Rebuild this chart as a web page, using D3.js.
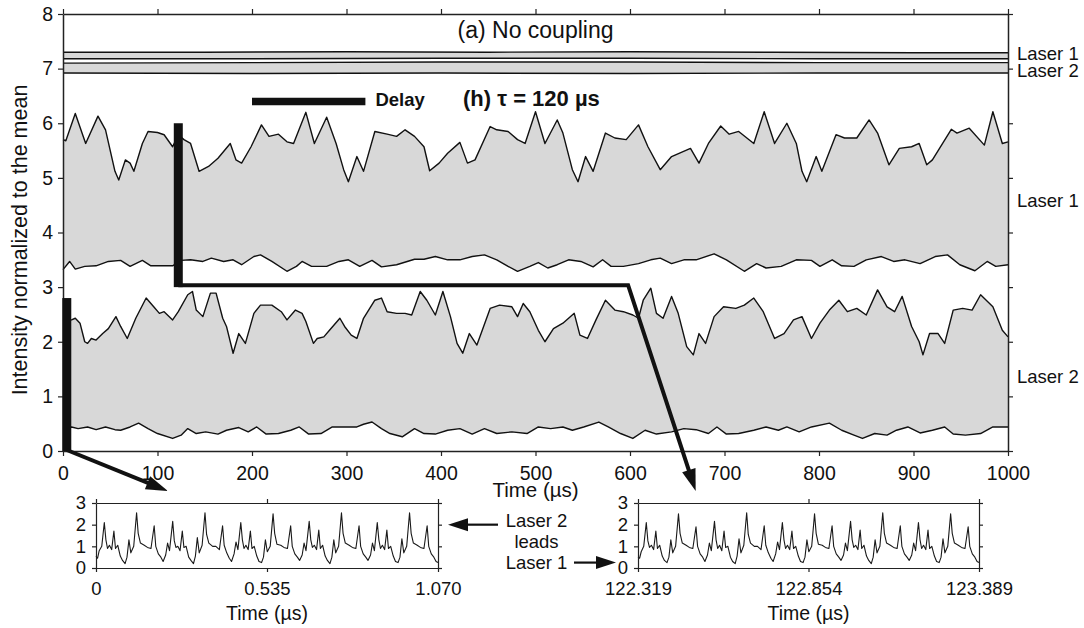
<!DOCTYPE html>
<html>
<head>
<meta charset="utf-8">
<script src="https://cdn.jsdelivr.net/npm/d3@7"></script>
<style>
  html, body { margin: 0; padding: 0; background: #fff; }
  svg { display: block; }
</style>
</head>
<body>
<div id="chart"></div>
<script>
// ---- data (time in us, intensity normalized to the mean) ----
const xTicks = [0, 100, 200, 300, 400, 500, 600, 700, 800, 900, 1000]
const yTicks = [0, 1, 2, 3, 4, 5, 6, 7, 8]

// (a) no coupling, thin bands near the top
const band1Upper = [[0, 7.30], [150, 7.30], [300, 7.31], [450, 7.30], [600, 7.31], [750, 7.30], [900, 7.29], [1000, 7.29]]
const band1Lower = [[0, 7.18], [200, 7.18], [400, 7.19], [600, 7.19], [800, 7.18], [1000, 7.18]]
const band2Upper = [[0, 7.10], [200, 7.11], [400, 7.12], [600, 7.12], [800, 7.11], [1000, 7.11]]
const band2Lower = [[0, 6.92], [200, 6.91], [400, 6.92], [600, 6.91], [800, 6.92], [1000, 6.92]]

// (h) tau = 120 us, laser 1 envelope
const laser1Upper = [[0,5.70],[3,5.68],[13,6.18],[24,5.63],[37,6.13],[45,5.88],[55,5.12],[59,4.96],[66,5.33],[71,5.27],[75,5.12],[84,5.63],[90,5.85],[100,5.83],[107,5.79],[116,5.57],[122,5.79],[128,5.70],[135,5.63],[144,5.12],[154,5.21],[164,5.36],[177,5.63],[183,5.33],[189,5.27],[199,5.57],[210,5.97],[218,5.76],[228,5.80],[237,5.66],[244,5.63],[257,6.20],[266,5.63],[279,6.11],[289,5.63],[297,5.15],[302,4.93],[311,5.39],[318,5.12],[330,5.85],[343,5.80],[353,5.76],[362,5.88],[372,5.76],[382,5.57],[388,5.13],[398,5.27],[407,5.45],[420,5.65],[428,5.27],[436,5.33],[452,5.94],[459,5.88],[471,5.85],[481,5.70],[489,5.63],[500,6.21],[510,5.63],[523,6.06],[529,5.82],[539,5.15],[545,4.93],[553,5.39],[561,5.12],[574,5.82],[584,5.73],[596,5.70],[609,5.97],[619,5.57],[632,5.15],[644,5.39],[664,5.54],[673,5.27],[683,5.63],[696,5.95],[705,5.80],[715,5.85],[731,5.63],[742,6.21],[753,5.63],[766,6.00],[776,5.63],[782,5.12],[787,4.93],[797,5.39],[803,5.12],[818,5.79],[827,5.73],[840,5.73],[853,6.06],[862,5.82],[874,5.24],[885,5.54],[898,5.57],[906,5.63],[914,5.24],[920,5.33],[940,5.89],[946,5.82],[959,5.91],[975,5.60],[984,6.21],[994,5.63],[1000,5.66]]
const laser1Lower = [[0,3.32],[7,3.47],[13,3.33],[23,3.38],[35,3.39],[48,3.47],[61,3.49],[71,3.38],[84,3.49],[93,3.39],[116,3.39],[125,3.49],[135,3.50],[148,3.47],[157,3.53],[170,3.47],[180,3.50],[189,3.41],[202,3.56],[209,3.59],[221,3.47],[237,3.29],[247,3.38],[253,3.47],[263,3.38],[279,3.38],[292,3.47],[302,3.50],[314,3.38],[327,3.49],[337,3.37],[353,3.41],[372,3.51],[382,3.51],[394,3.56],[407,3.50],[420,3.50],[433,3.56],[446,3.59],[459,3.50],[471,3.38],[481,3.29],[494,3.38],[503,3.45],[513,3.35],[523,3.41],[535,3.50],[548,3.47],[561,3.37],[571,3.50],[580,3.38],[593,3.38],[609,3.43],[622,3.50],[632,3.53],[644,3.43],[657,3.50],[670,3.50],[689,3.61],[702,3.50],[721,3.29],[734,3.43],[744,3.35],[760,3.38],[776,3.50],[792,3.49],[801,3.38],[814,3.50],[824,3.39],[837,3.38],[850,3.50],[866,3.56],[879,3.47],[891,3.50],[907,3.43],[923,3.56],[936,3.59],[949,3.41],[965,3.30],[978,3.47],[987,3.38],[1000,3.41]]

// laser 2 envelope
const laser2Upper = [[0,2.38],[9,2.40],[13,2.43],[18,2.34],[23,2.00],[26,1.97],[30,2.06],[35,2.03],[42,2.15],[48,2.24],[56,2.46],[61,2.28],[68,2.06],[77,2.43],[88,2.80],[96,2.64],[102,2.52],[107,2.55],[116,2.40],[122,2.55],[132,2.86],[137,2.92],[141,2.58],[148,2.46],[156,2.89],[162,2.89],[169,2.43],[173,2.28],[180,1.79],[186,2.15],[193,1.97],[202,2.52],[209,2.67],[221,2.67],[231,2.55],[237,2.40],[246,2.58],[253,2.52],[257,2.37],[265,1.97],[269,2.06],[276,2.09],[282,2.21],[293,2.43],[298,2.28],[305,2.12],[311,2.06],[318,2.43],[330,2.76],[337,2.80],[343,2.55],[353,2.52],[362,2.52],[369,2.49],[378,2.92],[385,2.76],[394,2.49],[402,2.92],[410,2.46],[417,1.97],[423,1.79],[430,2.15],[438,1.94],[452,2.61],[462,2.67],[475,2.64],[481,2.46],[487,2.70],[494,2.55],[503,2.21],[510,2.00],[519,2.24],[529,2.34],[541,2.52],[547,2.12],[555,2.06],[564,2.40],[574,2.76],[584,2.58],[593,2.55],[603,2.49],[609,2.43],[614,2.76],[622,2.98],[628,2.52],[635,2.43],[644,2.83],[651,2.52],[660,1.91],[667,1.76],[673,2.15],[680,1.97],[689,2.46],[699,2.64],[712,2.61],[721,2.67],[731,2.80],[741,2.55],[753,2.06],[763,2.15],[773,2.40],[782,2.46],[792,2.06],[801,2.34],[811,2.58],[821,2.76],[830,2.55],[840,2.61],[850,2.49],[862,2.95],[872,2.64],[880,2.55],[888,2.83],[898,2.28],[906,2.00],[910,1.76],[917,2.15],[926,2.15],[933,1.97],[942,2.58],[952,2.61],[962,2.58],[971,2.86],[984,2.64],[994,2.21],[1000,2.09]]
const laser2Lower = [[0,0.41],[9,0.44],[16,0.41],[26,0.44],[35,0.39],[45,0.44],[55,0.39],[61,0.38],[71,0.44],[80,0.51],[90,0.41],[100,0.32],[116,0.23],[125,0.29],[132,0.41],[141,0.32],[151,0.35],[164,0.31],[173,0.38],[186,0.43],[196,0.35],[205,0.44],[215,0.31],[228,0.32],[241,0.38],[250,0.44],[260,0.31],[273,0.32],[285,0.44],[298,0.44],[311,0.44],[318,0.49],[327,0.53],[337,0.41],[346,0.32],[359,0.26],[372,0.41],[382,0.32],[394,0.31],[407,0.38],[420,0.41],[433,0.31],[446,0.41],[459,0.32],[475,0.35],[491,0.32],[503,0.44],[516,0.41],[529,0.44],[539,0.38],[551,0.44],[567,0.53],[577,0.44],[590,0.32],[603,0.23],[616,0.38],[628,0.31],[644,0.35],[657,0.41],[670,0.39],[683,0.32],[692,0.44],[702,0.31],[715,0.32],[731,0.38],[744,0.44],[757,0.38],[766,0.44],[779,0.35],[792,0.44],[811,0.51],[824,0.38],[837,0.29],[846,0.23],[859,0.32],[872,0.29],[882,0.38],[894,0.44],[907,0.33],[920,0.38],[933,0.44],[942,0.31],[955,0.29],[971,0.32],[984,0.44],[1000,0.44]]

// zoomed traces
const inset1Trace = [[0,0.55],[0.005,0.45],[0.010,0.80],[0.018,1.00],
  [0.026,2.10],[0.031,1.30],[0.036,0.90],[0.042,1.05],[0.049,0.85],[0.056,1.70],[0.061,0.90],[0.068,1.05],[0.076,0.55],[0.083,0.35],[0.091,0.20],[0.097,0.50],[0.103,1.30],[0.109,0.70],[0.118,1.00],[0.127,2.55],[0.132,1.60],[0.139,1.15],[0.151,1.05],[0.161,0.95],[0.172,0.90],[0.182,1.95],[0.187,1.00],[0.195,0.65],[0.203,0.50],[0.210,0.30],[0.218,0.60],[0.224,1.15],[0.230,0.80],
  [0.240,2.15],[0.245,1.25],[0.250,0.95],[0.256,1.00],[0.263,0.80],[0.270,1.70],[0.275,0.95],[0.282,1.00],[0.290,0.50],[0.297,0.35],[0.305,0.20],[0.311,0.55],[0.317,1.40],[0.323,0.70],[0.332,1.05],[0.341,2.55],[0.346,1.55],[0.353,1.15],[0.365,1.00],[0.375,1.00],[0.386,0.85],[0.396,1.95],[0.401,1.05],[0.409,0.70],[0.417,0.45],[0.424,0.30],[0.432,0.65],[0.438,1.20],[0.444,0.85],
  [0.453,2.10],[0.458,1.30],[0.463,0.90],[0.469,1.05],[0.476,0.85],[0.483,1.70],[0.488,0.90],[0.495,1.00],[0.503,0.55],[0.510,0.30],[0.518,0.25],[0.524,0.50],[0.530,1.30],[0.536,0.75],[0.545,1.00],[0.554,2.50],[0.559,1.60],[0.566,1.10],[0.578,1.05],[0.588,0.95],[0.599,0.90],[0.609,1.95],[0.614,1.00],[0.622,0.65],[0.630,0.50],[0.637,0.35],[0.645,0.60],[0.651,1.15],[0.657,0.80],
  [0.667,2.15],[0.672,1.30],[0.677,0.95],[0.683,1.05],[0.690,0.85],[0.697,1.75],[0.702,0.90],[0.709,1.05],[0.717,0.55],[0.724,0.35],[0.732,0.20],[0.738,0.50],[0.744,1.30],[0.750,0.70],[0.759,1.00],[0.768,2.55],[0.773,1.60],[0.780,1.15],[0.792,1.05],[0.802,0.95],[0.813,0.90],[0.823,1.95],[0.828,1.00],[0.836,0.65],[0.844,0.50],[0.851,0.35],[0.859,0.60],[0.865,1.15],[0.871,0.80],
  [0.880,2.10],[0.885,1.30],[0.890,0.90],[0.896,1.05],[0.903,0.85],[0.910,1.75],[0.915,0.90],[0.922,1.00],[0.930,0.55],[0.937,0.30],[0.945,0.25],[0.951,0.50],[0.957,1.35],[0.963,0.70],[0.972,1.00],[0.981,2.55],[0.986,1.60],[0.993,1.15],[1.005,1.05],[1.015,0.95],[1.026,0.90],[1.036,1.95],[1.041,1.00],[1.049,0.65],[1.057,0.50],[1.064,0.30],[1.070,0.25]]
const inset2Trace = [[122.319,0.50],[122.324,0.45],[122.329,0.75],[122.337,1.00],
  [122.345,2.10],[122.350,1.25],[122.355,0.95],[122.361,1.05],[122.368,0.85],[122.375,1.70],[122.380,0.90],[122.387,1.05],[122.395,0.55],[122.402,0.35],[122.410,0.25],[122.416,0.50],[122.422,1.30],[122.428,0.70],[122.437,1.00],[122.446,2.50],[122.451,1.60],[122.458,1.15],[122.470,1.05],[122.480,0.95],[122.491,0.90],[122.501,1.90],[122.506,1.00],[122.514,0.65],[122.522,0.50],[122.529,0.30],[122.537,0.60],[122.543,1.15],[122.549,0.80],
  [122.559,2.15],[122.564,1.30],[122.569,0.90],[122.575,1.05],[122.582,0.80],[122.589,1.70],[122.594,0.95],[122.601,1.00],[122.609,0.50],[122.616,0.30],[122.624,0.20],[122.630,0.55],[122.636,1.35],[122.642,0.70],[122.651,1.05],[122.660,2.55],[122.665,1.55],[122.672,1.15],[122.684,1.00],[122.694,1.00],[122.705,0.85],[122.715,1.95],[122.720,1.05],[122.728,0.70],[122.736,0.45],[122.743,0.30],[122.751,0.65],[122.757,1.20],[122.763,0.85],
  [122.772,2.10],[122.777,1.30],[122.782,0.90],[122.788,1.05],[122.795,0.85],[122.802,1.70],[122.807,0.90],[122.814,1.00],[122.822,0.55],[122.829,0.30],[122.837,0.25],[122.843,0.50],[122.849,1.30],[122.855,0.75],[122.864,1.00],[122.873,2.50],[122.878,1.60],[122.885,1.10],[122.897,1.05],[122.907,0.95],[122.918,0.90],[122.928,1.95],[122.933,1.00],[122.941,0.65],[122.949,0.50],[122.956,0.35],[122.964,0.60],[122.970,1.15],[122.976,0.80],
  [122.986,2.15],[122.991,1.30],[122.996,0.95],[123.002,1.05],[123.009,0.85],[123.016,1.75],[123.021,0.90],[123.028,1.05],[123.036,0.55],[123.043,0.35],[123.051,0.20],[123.057,0.50],[123.063,1.30],[123.069,0.70],[123.078,1.00],[123.087,2.55],[123.092,1.60],[123.099,1.15],[123.111,1.05],[123.121,0.95],[123.132,0.90],[123.142,1.95],[123.147,1.00],[123.155,0.65],[123.163,0.50],[123.170,0.35],[123.178,0.60],[123.184,1.15],[123.190,0.80],
  [123.199,2.10],[123.204,1.30],[123.209,0.90],[123.215,1.05],[123.222,0.85],[123.229,1.75],[123.234,0.90],[123.241,1.00],[123.249,0.55],[123.256,0.30],[123.264,0.25],[123.270,0.50],[123.276,1.35],[123.282,0.70],[123.291,1.00],[123.300,2.50],[123.305,1.60],[123.312,1.15],[123.324,1.05],[123.334,0.95],[123.345,0.90],[123.355,1.90],[123.360,1.00],[123.368,0.65],[123.376,0.50],[123.383,0.30],[123.389,0.25]]

const insetYTicks = [0, 1, 2, 3]
const inset1Ticks = [0, 0.535, 1.07]
const inset1TickLabels = ['0', '0.535', '1.070']
const inset2Ticks = [122.319, 122.854, 123.389]
const inset2TickLabels = ['122.319', '122.854', '123.389']

// annotation anchors, in data units
const tau = 120
const delayBar = { start: 200, level: 6.4 }
const laser2Mark = { t: 4, lo: 0, hi: 2.8 }
const laser1Mark = { t: 122, lo: 3, hi: 6, elbow: 598 }
const inset1Target = 0.225
const inset2Target = 122.5

// ---- drawing ----
const FONT = "'Liberation Sans', Arial, sans-serif"
const INK = '#111'
const GRAY = '#d8d8d8'

const svg = d3
  .select('#chart')
  .append('svg')
  .attr('width', 1084)
  .attr('height', 628)
  .attr('viewBox', '0 0 1084 628')
  .style('font-family', FONT)

const x = d3.scaleLinear().domain([0, 1000]).range([63, 1008])
const y = d3.scaleLinear().domain([0, 8]).range([451, 14])

const inset1X = d3.scaleLinear().domain([0, 1.07]).range([96, 438])
const inset2X = d3.scaleLinear().domain([122.319, 123.389]).range([638, 979])
const insetY = d3.scaleLinear().domain([0, 3]).range([568, 503])

function addText(g, { px, py, text, size = 19, weight = 'normal', anchor = 'start', rotate = 0 }) {
  return g
    .append('text')
    .attr('transform', `translate(${px},${py}) rotate(${rotate})`)
    .attr('text-anchor', anchor)
    .attr('font-size', size)
    .attr('font-weight', weight)
    .attr('fill', INK)
    .text(text)
}

function drawBand(g, upper, lower, sx, sy) {
  const line = d3.line().x(d => sx(d[0])).y(d => sy(d[1]))
  g.append('path')
    .attr('d', line(upper.concat(lower.slice().reverse())) + 'Z')
    .attr('fill', GRAY)
  ;[upper, lower].forEach(edge => {
    g.append('path')
      .attr('d', line(edge))
      .attr('fill', 'none')
      .attr('stroke', INK)
      .attr('stroke-width', 1.4)
      .attr('stroke-linejoin', 'round')
  })
}

function styleAxis(g, size = 19.5) {
  g.attr('font-family', FONT).attr('font-size', size)
  g.select('.domain').attr('stroke', '#222').attr('stroke-width', 1.5)
  g.selectAll('.tick line').attr('stroke', '#222').attr('stroke-width', 1.2)
  g.selectAll('.tick text').attr('fill', INK)
}

// arrow as a shaft plus a filled head, all in pixel space
function drawArrow(g, points, { width = 4, headLength = 22, headWidth = 14 } = {}) {
  const [x0, y0] = points[points.length - 2]
  const [x1, y1] = points[points.length - 1]
  const len = Math.hypot(x1 - x0, y1 - y0)
  const ux = (x1 - x0) / len
  const uy = (y1 - y0) / len
  const bx = x1 - ux * headLength
  const by = y1 - uy * headLength
  const shaft = points.slice(0, -1).concat([[bx + ux, by + uy]])
  g.append('path')
    .attr('d', d3.line()(shaft))
    .attr('fill', 'none')
    .attr('stroke', INK)
    .attr('stroke-width', width)
    .attr('stroke-linejoin', 'miter')
  g.append('path')
    .attr(
      'd',
      d3.line()([
        [x1, y1],
        [bx - (uy * headWidth) / 2, by + (ux * headWidth) / 2],
        [bx + (uy * headWidth) / 2, by - (ux * headWidth) / 2],
      ]) + 'Z',
    )
    .attr('fill', INK)
}

// main panel
const plot = svg.append('g').attr('class', 'main-plot')

drawBand(plot, band1Upper, band1Lower, x, y)
drawBand(plot, band2Upper, band2Lower, x, y)
drawBand(plot, laser1Upper, laser1Lower, x, y)
drawBand(plot, laser2Upper, laser2Lower, x, y)

const intFormat = d3.format('d')

plot.append('g')
  .attr('transform', `translate(0,${y(0)})`)
  .call(d3.axisBottom(x).tickValues(xTicks).tickSize(5).tickSizeOuter(0).tickPadding(10).tickFormat(intFormat))
  .call(styleAxis)
plot.append('g')
  .attr('transform', `translate(0,${y(8)})`)
  .call(d3.axisTop(x).tickValues(xTicks).tickSize(5).tickSizeOuter(0).tickFormat(() => ''))
  .call(styleAxis)
plot.append('g')
  .attr('transform', `translate(${x(0)},0)`)
  .call(d3.axisLeft(y).tickValues(yTicks).tickSize(5).tickSizeOuter(0).tickPadding(5).tickFormat(intFormat))
  .call(styleAxis)
plot.append('g')
  .attr('transform', `translate(${x(1000)},0)`)
  .call(d3.axisRight(y).tickValues(yTicks).tickSize(5).tickSizeOuter(0).tickFormat(() => ''))
  .call(styleAxis)

addText(svg, { px: 27, py: 240, text: 'Intensity normalized to the mean', size: 21.5, anchor: 'middle', rotate: -90 })
addText(svg, { px: x(500), py: 497, text: 'Time (\u00b5s)', size: 20.5, anchor: 'middle' })

addText(svg, { px: x(500), py: 38, text: '(a) No coupling', size: 23, anchor: 'middle' })
addText(svg, { px: 463, py: 106, text: '(h) \u03c4 = 120 \u00b5s', size: 22, weight: 'bold' })

// delay bar
svg.append('line')
  .attr('x1', x(delayBar.start))
  .attr('x2', x(delayBar.start + tau))
  .attr('y1', y(delayBar.level))
  .attr('y2', y(delayBar.level))
  .attr('stroke', INK)
  .attr('stroke-width', 7.5)
addText(svg, { px: x(delayBar.start + tau) + 10, py: 106, text: 'Delay', size: 18.5, weight: 'bold' })

// right-hand labels
const rightLabels = [
  { text: 'Laser 1', py: 60 },
  { text: 'Laser 2', py: 76.5 },
  { text: 'Laser 1', py: 206.5 },
  { text: 'Laser 2', py: 382.5 },
]
rightLabels.forEach(d => addText(svg, { px: x(1000) + 9, py: d.py, text: d.text, size: 18.5 }))

// insets
function drawInset({ sx, trace, ticks, tickLabels, target }) {
  const g = svg.append('g').attr('class', 'inset')
  g.append('path')
    .attr('d', d3.line().x(d => sx(d[0])).y(d => insetY(d[1]))(trace))
    .attr('fill', 'none')
    .attr('stroke', '#1a1a1a')
    .attr('stroke-width', 1.1)
    .attr('stroke-linejoin', 'round')

  const [x0, x1] = sx.range()
  g.append('g')
    .attr('transform', `translate(0,${insetY(0)})`)
    .call(d3.axisBottom(sx).tickValues(ticks).tickSize(4).tickSizeOuter(0).tickPadding(10).tickFormat((d, i) => tickLabels[i]))
    .call(a => styleAxis(a, 18.5))
  g.append('g')
    .attr('transform', `translate(0,${insetY(3)})`)
    .call(d3.axisTop(sx).tickValues(ticks).tickSize(4).tickSizeOuter(0).tickFormat(() => ''))
    .call(a => styleAxis(a, 18.5))
  g.append('g')
    .attr('transform', `translate(${x0},0)`)
    .call(d3.axisLeft(insetY).tickValues(insetYTicks).tickSize(4).tickSizeOuter(0).tickPadding(6).tickFormat(intFormat))
    .call(a => styleAxis(a, 18.5))
  g.append('g')
    .attr('transform', `translate(${x1},0)`)
    .call(d3.axisRight(insetY).tickValues(insetYTicks).tickSize(4).tickSizeOuter(0).tickFormat(() => ''))
    .call(a => styleAxis(a, 18.5))
  g.selectAll('.domain').attr('stroke-width', 1.2)

  addText(svg, { px: (x0 + x1) / 2, py: 620, text: 'Time (\u00b5s)', size: 19.5, anchor: 'middle' })
  return [sx(target), insetY(3) - 12]
}

const tip1 = drawInset({ sx: inset1X, trace: inset1Trace, ticks: inset1Ticks, tickLabels: inset1TickLabels, target: inset1Target })
const tip2 = drawInset({ sx: inset2X, trace: inset2Trace, ticks: inset2Ticks, tickLabels: inset2TickLabels, target: inset2Target })

// markers of the two compared windows and their connectors
const marks = svg.append('g').attr('class', 'marks')
;[laser2Mark, laser1Mark].forEach(m => {
  marks.append('rect')
    .attr('x', x(m.t) - 4.5)
    .attr('width', 9)
    .attr('y', y(m.hi))
    .attr('height', y(m.lo) - y(m.hi))
    .attr('fill', INK)
})
drawArrow(marks, [[x(laser2Mark.t), y(laser2Mark.lo) - 1], tip1], { width: 4 })
drawArrow(marks, [
  [x(laser1Mark.t), y(laser1Mark.lo) - 2],
  [x(laser1Mark.elbow), y(laser1Mark.lo) - 2],
  tip2,
], { width: 4 })

// "Laser 2 leads Laser 1" note between insets
const noteX = x(500) + 1
addText(svg, { px: noteX, py: 527, text: 'Laser 2', size: 18.5, anchor: 'middle' })
addText(svg, { px: noteX, py: 548, text: 'leads', size: 18.5, anchor: 'middle' })
addText(svg, { px: noteX, py: 569, text: 'Laser 1', size: 18.5, anchor: 'middle' })
drawArrow(svg, [[498, insetY(2)], [448, insetY(2)]], { width: 2.2, headLength: 20, headWidth: 13 })
drawArrow(svg, [[574, insetY(0.25)], [inset2X.range()[0] - 22, insetY(0.25)]], { width: 2.2, headLength: 20, headWidth: 13 })
</script>
</body>
</html>
